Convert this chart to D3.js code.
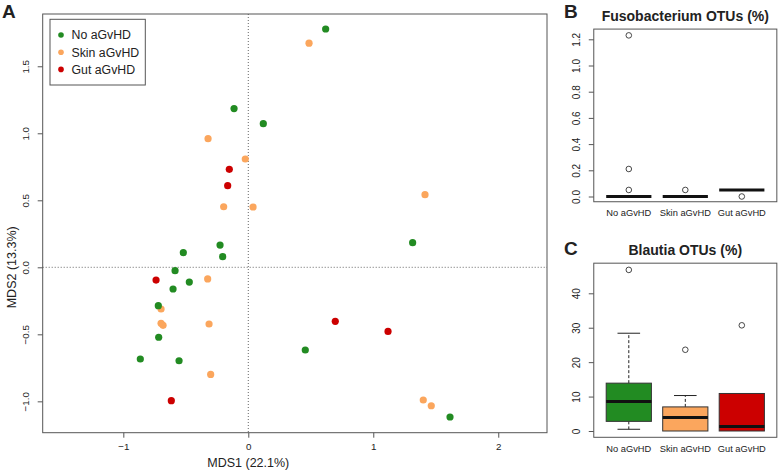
<!DOCTYPE html>
<html><head><meta charset="utf-8">
<script src="https://cdn.jsdelivr.net/npm/d3@7"></script>
<style>
body{margin:0;background:#fff}
svg{display:block}
text{font-family:"Liberation Sans",Arial,Helvetica,sans-serif;fill:#222}
</style>
</head><body>
<svg id="chart" width="778" height="471"></svg>
<script>
// ---------- data ----------
const groups = ["No aGvHD", "Skin aGvHD", "Gut aGvHD"];
const groupColors = ["#228B22", "#FBA65D", "#CC0000"];

// Panel A: MDS coordinates
const noX   = [0.619, -0.114, 0.120, 1.315, -0.520, -0.226, -0.205, -0.586, -0.472, -0.602, -0.720, -0.717, -0.864, -0.554, 0.456, 1.614];
const noY   = [1.778, 1.184, 1.072, 0.184, 0.109, 0.166, 0.079, -0.025, -0.110, -0.162, -0.286, -0.522, -0.684, -0.697, -0.617, -1.117];
const skinX = [0.486, -0.322, -0.024, -0.197, 0.038, 1.414, -0.325, -0.698, -0.698, -0.682, -0.314, -0.301, 1.400, 1.464];
const skinY = [1.672, 0.960, 0.808, 0.452, 0.450, 0.542, -0.087, -0.311, -0.418, -0.433, -0.423, -0.799, -0.990, -1.033];
const gutX  = [-0.152, -0.165, -0.738, -0.616, 0.696, 1.118];
const gutY  = [0.731, 0.609, -0.095, -0.995, -0.403, -0.478];
const mdsXTicks = [-1, 0, 1, 2];
const mdsYTicks = [-1.0, -0.5, 0.0, 0.5, 1.0, 1.5];

// Panel B: Fusobacterium OTUs (%) boxplot stats
const fusoLow  = [0, 0, 0.05];
const fusoQ1   = [0, 0, 0.05];
const fusoMed  = [0, 0, 0.05];
const fusoQ3   = [0, 0, 0.05];
const fusoHigh = [0, 0, 0.05];
const fusoOut  = [[0.05, 0.21, 1.23], [0.05], [0.0]];
const fusoTicks = [0, 0.2, 0.4, 0.6, 0.8, 1.0, 1.2];

// Panel C: Blautia OTUs (%) boxplot stats
const blauLow  = [0.5, 0, 0];
const blauQ1   = [2.8, 0, 0];
const blauMed  = [8.6, 3.9, 1.3];
const blauQ3   = [13.9, 7.0, 10.9];
const blauHigh = [28.4, 10.3, 10.9];
const blauOut  = [[46.8], [23.6], [30.7]];
const blauTicks = [0, 10, 20, 30, 40];

// ---------- drawing ----------
const svg = d3.select("#chart");
const frameColor = "#555";

// ===== Panel A =====
const xA = d3.scaleLinear().domain([-1.645, 2.39]).range([42.7, 547]);
const yA = d3.scaleLinear().domain([-1.234, 1.89]).range([432.7, 14]);

const gA = svg.append("g");
// reference lines
gA.append("line").attr("x1", xA(0)).attr("x2", xA(0)).attr("y1", yA.range()[1]).attr("y2", yA.range()[0])
  .attr("stroke", "#666").attr("stroke-width", 1).attr("stroke-dasharray", "1,2");
gA.append("line").attr("x1", xA.range()[0]).attr("x2", xA.range()[1]).attr("y1", yA(0)).attr("y2", yA(0))
  .attr("stroke", "#666").attr("stroke-width", 1).attr("stroke-dasharray", "1,2");

// axes
const axXA = d3.axisBottom(xA).tickValues(mdsXTicks).tickSize(5).tickPadding(5).tickFormat(d3.format("d"));
const gxA = gA.append("g").attr("transform", `translate(0,${yA.range()[0]})`).call(axXA);
gxA.select(".domain").remove();
gxA.selectAll("line").attr("stroke", frameColor);
gxA.selectAll("text").attr("font-size", 9.8).attr("fill", "#333");

const axYA = d3.axisLeft(yA).tickValues(mdsYTicks).tickSize(5).tickFormat(d3.format(".1f"));
const gyA = gA.append("g").attr("transform", `translate(${xA.range()[0]},0)`).call(axYA);
gyA.select(".domain").remove();
gyA.selectAll("line").attr("stroke", frameColor);
gyA.selectAll("text").attr("font-size", 9.8).attr("fill", "#333")
  .attr("transform", "rotate(-90)").attr("x", 0).attr("y", -14).attr("dy", 0).attr("text-anchor", "middle");

// frame
gA.append("rect").attr("x", xA.range()[0]).attr("y", yA.range()[1])
  .attr("width", xA.range()[1] - xA.range()[0]).attr("height", yA.range()[0] - yA.range()[1])
  .attr("fill", "none").attr("stroke", frameColor).attr("stroke-width", 1);

// points
const ptSets = [
  {x: skinX, y: skinY, c: groupColors[1]},
  {x: gutX, y: gutY, c: groupColors[2]},
  {x: noX, y: noY, c: groupColors[0]}
];
ptSets.forEach(s => {
  gA.append("g").selectAll("circle").data(d3.range(s.x.length)).join("circle")
    .attr("cx", i => xA(s.x[i])).attr("cy", i => yA(s.y[i])).attr("r", 3.6).attr("fill", s.c);
});

// axis titles
gA.append("text").attr("x", xA(0)).attr("y", 467)
  .attr("text-anchor", "middle").attr("font-size", 12.5).text("MDS1 (22.1%)");
gA.append("text").attr("transform", `translate(16,${yA(0)}) rotate(-90)`)
  .attr("text-anchor", "middle").attr("font-size", 12.5).text("MDS2 (13.3%)");

// legend
const leg = gA.append("g");
leg.append("rect").attr("x", 50).attr("y", 19.3).attr("width", 95.3).attr("height", 65.7)
  .attr("fill", "#fff").attr("stroke", frameColor);
groups.forEach((g, i) => {
  leg.append("circle").attr("cx", 61).attr("cy", 35 + i * 17.2).attr("r", 2.8).attr("fill", groupColors[i]);
  leg.append("text").attr("x", 71.5).attr("y", 35 + i * 17.2 + 4.4).attr("font-size", 12.3).text(g);
});

// panel letter
svg.append("text").attr("x", 2).attr("y", 18).attr("font-size", 19).attr("font-weight", "bold").text("A");

// ===== Boxplot helper =====
function boxPanel(opts) {
  const g = svg.append("g");
  const x = d3.scaleLinear().domain([1, 3]).range([628.8, 741.8]);
  const y = d3.scaleLinear().domain(opts.yDom).range(opts.yRange);
  const fx0 = x(0.38), fx1 = x(3.62);
  const fy0 = y(opts.frameDom[1]), fy1 = y(opts.frameDom[0]);
  const hw = x(1.4) - x(1);

  // title
  g.append("text").attr("x", (fx0 + fx1) / 2).attr("y", opts.titleY).attr("text-anchor", "middle")
    .attr("font-size", 14).attr("font-weight", "bold").text(opts.title);
  svg.append("text").attr("x", 564).attr("y", opts.letterY).attr("font-size", 19).attr("font-weight", "bold").text(opts.letter);

  // y axis
  const ay = d3.axisLeft(y).tickValues(opts.ticks).tickSize(5).tickFormat(opts.fmt);
  const gy = g.append("g").attr("transform", `translate(${fx0},0)`).call(ay);
  gy.select(".domain").remove();
  gy.selectAll("line").attr("stroke", frameColor);
  gy.selectAll("text").attr("font-size", 10).attr("fill", "#333")
    .attr("transform", "rotate(-90)").attr("x", 0).attr("y", -14).attr("dy", 0).attr("text-anchor", "middle");

  // category labels
  groups.forEach((name, i) => {
    g.append("text").attr("x", x(i + 1)).attr("y", fy1 + 14.5).attr("text-anchor", "middle")
      .attr("font-size", 9.3).text(name);
  });

  // boxes
  groups.forEach((name, i) => {
    const cx = x(i + 1);
    const cap = hw / 2;
    // whiskers
    if (opts.high[i] > opts.q3[i]) {
      g.append("line").attr("x1", cx).attr("x2", cx).attr("y1", y(opts.q3[i])).attr("y2", y(opts.high[i]))
        .attr("stroke", "#222").attr("stroke-dasharray", "3,2");
      g.append("line").attr("x1", cx - cap).attr("x2", cx + cap).attr("y1", y(opts.high[i])).attr("y2", y(opts.high[i]))
        .attr("stroke", "#222");
    }
    if (opts.low[i] < opts.q1[i]) {
      g.append("line").attr("x1", cx).attr("x2", cx).attr("y1", y(opts.q1[i])).attr("y2", y(opts.low[i]))
        .attr("stroke", "#222").attr("stroke-dasharray", "3,2");
      g.append("line").attr("x1", cx - cap).attr("x2", cx + cap).attr("y1", y(opts.low[i])).attr("y2", y(opts.low[i]))
        .attr("stroke", "#222");
    }
    if (opts.q3[i] > opts.q1[i]) {
      g.append("rect").attr("x", cx - hw).attr("y", y(opts.q3[i])).attr("width", 2 * hw)
        .attr("height", y(opts.q1[i]) - y(opts.q3[i]))
        .attr("fill", opts.fill ? groupColors[i] : "none").attr("stroke", "#333").attr("stroke-width", 1);
    }
    g.append("line").attr("x1", cx - hw).attr("x2", cx + hw).attr("y1", y(opts.med[i])).attr("y2", y(opts.med[i]))
      .attr("stroke", "#111").attr("stroke-width", 3);
    g.selectAll(null).data(opts.out[i]).join("circle")
      .attr("cx", cx).attr("cy", d => y(d)).attr("r", 2.8)
      .attr("fill", "none").attr("stroke", "#333").attr("stroke-width", 0.9);
  });

  // frame
  g.append("rect").attr("x", fx0).attr("y", fy0).attr("width", fx1 - fx0).attr("height", fy1 - fy0)
    .attr("fill", "none").attr("stroke", frameColor);
}

boxPanel({
  title: "Fusobacterium OTUs (%)", letter: "B", titleY: 21, letterY: 18,
  yDom: [0, 1.2], yRange: [196.5, 39.3], frameDom: [-0.04, 1.278],
  ticks: fusoTicks, fmt: d3.format(".1f"),
  low: fusoLow, q1: fusoQ1, med: fusoMed, q3: fusoQ3, high: fusoHigh, out: fusoOut, fill: false
});
boxPanel({
  title: "Blautia OTUs (%)", letter: "C", titleY: 255, letterY: 255,
  yDom: [0, 40], yRange: [431, 293.3], frameDom: [-1.83, 48.75],
  ticks: blauTicks, fmt: d3.format("d"),
  low: blauLow, q1: blauQ1, med: blauMed, q3: blauQ3, high: blauHigh, out: blauOut, fill: true
});
</script>
</body></html>
